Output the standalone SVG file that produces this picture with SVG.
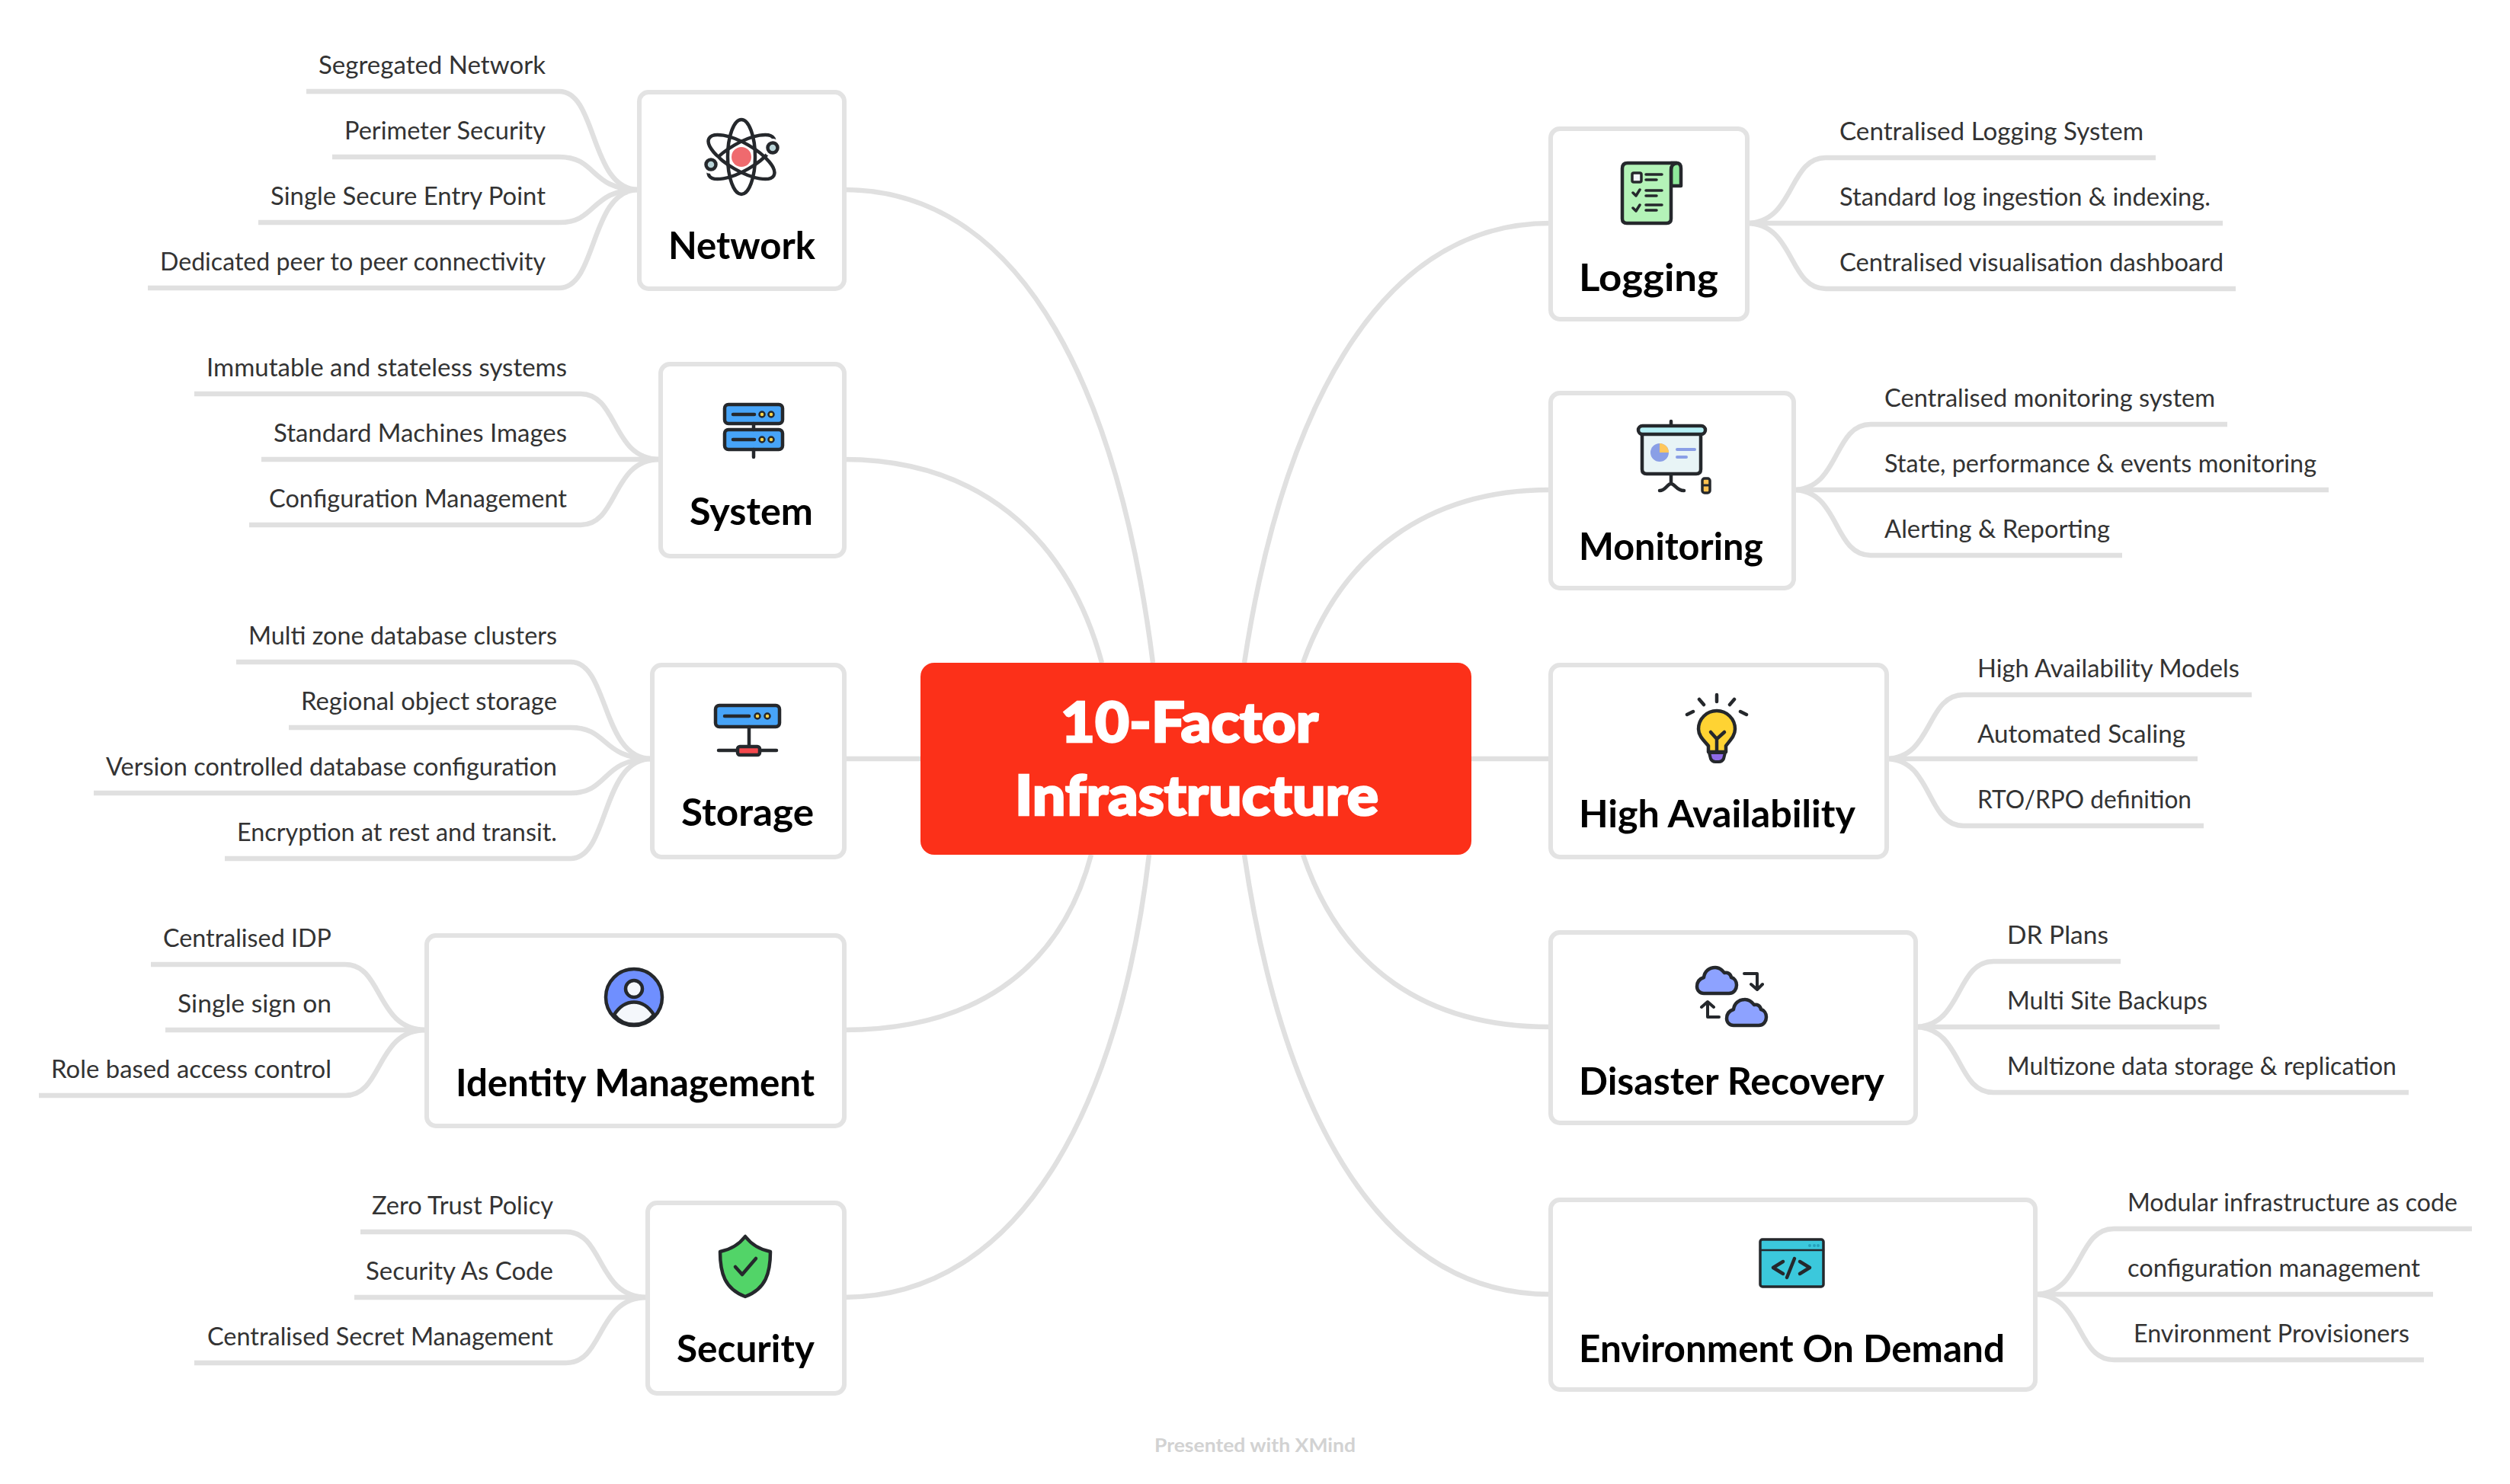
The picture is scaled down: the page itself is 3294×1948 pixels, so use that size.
<svg xmlns="http://www.w3.org/2000/svg" width="3294" height="1948" viewBox="0 0 3294 1948">
<style>
.bg{fill:#fff}
.c{fill:none;stroke:#e0e0e0;stroke-width:6.5;stroke-linecap:butt}
.box{fill:#fff;stroke:#e3e3e3;stroke-width:6;transform:translate(1px,1px)}
.root{fill:#fc3019}
text{font-family:"Lato","Noto Sans","Liberation Sans",sans-serif}
.leaf{font-size:33px;fill:#333;transform:translateY(1px)}
.l{text-anchor:end}
.title{font-size:49px;font-weight:700;fill:#000;transform:translate(1px,2px)}
.rt{font-size:72px;font-weight:900;fill:#fff;stroke:#fff;stroke-width:2.5}
.wm{font-size:24px;font-weight:700;fill:#d2d2d2;transform:translateY(1px)}
.i{stroke:#25282c;stroke-width:4.5;stroke-linecap:round;stroke-linejoin:round}
.n{fill:none}
.blue{fill:#47a4f8}
.y{fill:#ffd54a;stroke-width:2.5}
</style>
<defs>
<path id="cloud" d="M9 34H42C49 34 52 28 52 23C52 18 49 14 45 13C44 8 40 6 36 7C33 3 29 0 24 0C16 0 10 5 9 13C3 15 0 19 0 25C0 30 4 34 9 34Z"/>
</defs>
<rect class="bg" width="3294" height="1948"/>
<g id="connectors">
<path class="c" d="M1107 249C1350 249 1470 530 1513 870"/>
<path class="c" d="M1107 603C1280 603 1400 700 1446 870"/>
<path class="c" d="M1107 996H1210"/>
<path class="c" d="M1107 1352C1270 1352 1390 1280 1432 1122"/>
<path class="c" d="M1107 1703C1340 1703 1470 1450 1508 1122"/>
<path class="c" d="M2034 293C1800 293 1680 560 1633 870"/>
<path class="c" d="M2034 643C1870 643 1760 730 1710 870"/>
<path class="c" d="M2034 996H1931"/>
<path class="c" d="M2034 1348C1870 1348 1760 1270 1710 1122"/>
<path class="c" d="M2034 1699C1800 1699 1680 1440 1633 1122"/>
<path class="c" d="M402 120H734C784 120 774 249 838 249"/>
<path class="c" d="M436 206H734C784 206 774 249 838 249"/>
<path class="c" d="M339 292H734C784 292 774 249 838 249"/>
<path class="c" d="M194 378H734C784 378 774 249 838 249"/>
<path class="c" d="M255 517H762C812 517 802 603 866 603"/>
<path class="c" d="M343 603H866"/>
<path class="c" d="M327 689H762C812 689 802 603 866 603"/>
<path class="c" d="M310 869H749C799 869 789 996 855 996"/>
<path class="c" d="M379 955H749C799 955 789 996 855 996"/>
<path class="c" d="M123 1041H749C799 1041 789 996 855 996"/>
<path class="c" d="M295 1127H749C799 1127 789 996 855 996"/>
<path class="c" d="M198 1266H453C503 1266 493 1352 559 1352"/>
<path class="c" d="M217 1352H559"/>
<path class="c" d="M51 1438H453C503 1438 493 1352 559 1352"/>
<path class="c" d="M473 1617H743C793 1617 783 1703 849 1703"/>
<path class="c" d="M465 1703H849"/>
<path class="c" d="M255 1789H743C793 1789 783 1703 849 1703"/>
<path class="c" d="M2829 207H2396C2346 207 2356 293 2292 293"/>
<path class="c" d="M2917 293H2292"/>
<path class="c" d="M2934 379H2396C2346 379 2356 293 2292 293"/>
<path class="c" d="M2923 557H2455C2405 557 2415 643 2353 643"/>
<path class="c" d="M3056 643H2353"/>
<path class="c" d="M2785 729H2455C2405 729 2415 643 2353 643"/>
<path class="c" d="M2955 912H2577C2527 912 2537 996 2475 996"/>
<path class="c" d="M2884 996H2475"/>
<path class="c" d="M2892 1084H2577C2527 1084 2537 996 2475 996"/>
<path class="c" d="M2783 1262H2616C2566 1262 2576 1348 2513 1348"/>
<path class="c" d="M2913 1348H2513"/>
<path class="c" d="M3161 1434H2616C2566 1434 2576 1348 2513 1348"/>
<path class="c" d="M3244 1613H2774C2724 1613 2734 1699 2670 1699"/>
<path class="c" d="M3193 1699H2670"/>
<path class="c" d="M3181 1785H2774C2724 1785 2734 1699 2670 1699"/>
</g>
<g id="root">
<rect class="root" x="1208" y="870" width="723" height="252" rx="18"/>
<text class="rt" x="1392" y="974" textLength="338" lengthAdjust="spacingAndGlyphs">10-Factor</text>
<text class="rt" x="1332" y="1070" textLength="477" lengthAdjust="spacingAndGlyphs">Infrastructure</text>
</g>
<g id="network">
<rect class="box" x="838" y="120" width="269" height="258" rx="12"/>
<g class="i n"><ellipse cx="973" cy="206" rx="18" ry="49"/><ellipse cx="973" cy="206" rx="18" ry="49" transform="rotate(60 973 206)"/><ellipse cx="973" cy="206" rx="18" ry="49" transform="rotate(-60 973 206)"/></g>
<circle cx="1014" cy="194" r="12" fill="#fff"/><circle cx="933" cy="216" r="12" fill="#fff"/>
<circle class="i" cx="1014" cy="194" r="6.5" fill="#b9d4d8"/><circle class="i" cx="933" cy="216" r="6.5" fill="#b9d4d8"/>
<circle cx="973" cy="206" r="13" fill="#ef6a6e"/>
<text class="title" x="876" y="338" textLength="193" lengthAdjust="spacingAndGlyphs">Network</text>
<text class="leaf l" x="716" y="96" textLength="298" lengthAdjust="spacingAndGlyphs">Segregated Network</text>
<text class="leaf l" x="716" y="182" textLength="264" lengthAdjust="spacingAndGlyphs">Perimeter Security</text>
<text class="leaf l" x="716" y="268" textLength="361" lengthAdjust="spacingAndGlyphs">Single Secure Entry Point</text>
<text class="leaf l" x="716" y="354" textLength="506" lengthAdjust="spacingAndGlyphs">Dedicated peer to peer connectivity</text>
</g>
<g id="system">
<rect class="box" x="866" y="477" width="241" height="252" rx="12"/>
<rect class="i blue" x="951" y="531" width="76" height="25" rx="5"/><rect class="i blue" x="951" y="564" width="76" height="26" rx="5"/>
<path class="i n" d="M989 556V564M989 590V600M962 544H990M962 577H990"/>
<circle class="i y" cx="1000" cy="544" r="3.5"/><circle class="i y" cx="1012" cy="544" r="3.5"/><circle class="i y" cx="1000" cy="577" r="3.5"/><circle class="i y" cx="1012" cy="577" r="3.5"/>
<text class="title" x="904" y="687" textLength="162" lengthAdjust="spacingAndGlyphs">System</text>
<text class="leaf l" x="744" y="493" textLength="473" lengthAdjust="spacingAndGlyphs">Immutable and stateless systems</text>
<text class="leaf l" x="744" y="579" textLength="385" lengthAdjust="spacingAndGlyphs">Standard Machines Images</text>
<text class="leaf l" x="744" y="665" textLength="391" lengthAdjust="spacingAndGlyphs">Configuration Management</text>
</g>
<g id="storage">
<rect class="box" x="855" y="872" width="252" height="252" rx="12"/>
<rect class="i blue" x="939" y="926" width="84" height="28" rx="5"/>
<path class="i n" d="M951 940H983M983 954V981M943 985H1019"/>
<circle class="i y" cx="994" cy="940" r="3.5"/><circle class="i y" cx="1007" cy="940" r="3.5"/>
<rect class="i" x="968" y="980" width="29" height="11" rx="3" fill="#f5484d"/>
<text class="title" x="893" y="1082" textLength="174" lengthAdjust="spacingAndGlyphs">Storage</text>
<text class="leaf l" x="731" y="845" textLength="405" lengthAdjust="spacingAndGlyphs">Multi zone database clusters</text>
<text class="leaf l" x="731" y="931" textLength="336" lengthAdjust="spacingAndGlyphs">Regional object storage</text>
<text class="leaf l" x="731" y="1017" textLength="592" lengthAdjust="spacingAndGlyphs">Version controlled database configuration</text>
<text class="leaf l" x="731" y="1103" textLength="420" lengthAdjust="spacingAndGlyphs">Encryption at rest and transit.</text>
</g>
<g id="identity-management">
<rect class="box" x="559" y="1227" width="548" height="250" rx="12"/>
<circle class="i" cx="832" cy="1309" r="37" fill="#6f8fff"/>
<circle class="i" cx="832" cy="1298" r="11" fill="#f4f7fb"/>
<path class="i" d="M806 1332C820 1310 844 1310 858 1332C845 1349 819 1349 806 1332Z" fill="#f4f7fb"/>
<text class="title" x="597" y="1437" textLength="471" lengthAdjust="spacingAndGlyphs">Identity Management</text>
<text class="leaf l" x="435" y="1242" textLength="221" lengthAdjust="spacingAndGlyphs">Centralised IDP</text>
<text class="leaf l" x="435" y="1328" textLength="202" lengthAdjust="spacingAndGlyphs">Single sign on</text>
<text class="leaf l" x="435" y="1414" textLength="368" lengthAdjust="spacingAndGlyphs">Role based access control</text>
</g>
<g id="security">
<rect class="box" x="849" y="1578" width="258" height="250" rx="12"/>
<path class="i" d="M978 1623C968 1636 955 1641 945 1643C945 1671 951 1692 978 1702C1005 1692 1011 1671 1011 1643C1001 1641 988 1636 978 1623Z" fill="#52d468"/>
<path class="i n" d="M965 1663L974 1673L992 1652"/>
<text class="title" x="887" y="1786" textLength="181" lengthAdjust="spacingAndGlyphs">Security</text>
<text class="leaf l" x="726" y="1593" textLength="238" lengthAdjust="spacingAndGlyphs">Zero Trust Policy</text>
<text class="leaf l" x="726" y="1679" textLength="246" lengthAdjust="spacingAndGlyphs">Security As Code</text>
<text class="leaf l" x="726" y="1765" textLength="454" lengthAdjust="spacingAndGlyphs">Centralised Secret Management</text>
</g>
<g id="logging">
<rect class="box" x="2034" y="168" width="258" height="250" rx="12"/>
<path class="i" d="M2193 214H2200Q2206 214 2206 221V244H2193Z" fill="#8fe99a"/>
<path class="i" d="M2136 214H2201Q2193 215 2193 223V287Q2193 293 2187 293H2135Q2129 293 2129 287V221Q2129 214 2136 214Z" fill="#b4f3b8"/>
<rect class="i" x="2142" y="227" width="12" height="12" rx="2" fill="#f4f7fb" style="stroke-width:3.5"/>
<path class="i n" style="stroke-width:3.5" d="M2160 229H2181M2160 236H2174M2160 250H2181M2160 257H2174M2160 269H2181M2160 276H2174M2143 253L2147 257L2152 249M2143 273L2147 277L2152 269"/>
<text class="title" x="2071" y="380" textLength="183" lengthAdjust="spacingAndGlyphs">Logging</text>
<text class="leaf" x="2414" y="183" textLength="399" lengthAdjust="spacingAndGlyphs">Centralised Logging System</text>
<text class="leaf" x="2414" y="269" textLength="487" lengthAdjust="spacingAndGlyphs">Standard log ingestion &amp; indexing.</text>
<text class="leaf" x="2414" y="355" textLength="504" lengthAdjust="spacingAndGlyphs">Centralised visualisation dashboard</text>
</g>
<g id="monitoring">
<rect class="box" x="2034" y="515" width="319" height="256" rx="12"/>
<path class="i n" d="M2193 553V561M2193 622V635M2178 644C2186 644 2188 635 2193 635C2198 635 2200 644 2210 644"/>
<path class="i" d="M2155 569H2232V616Q2232 622 2226 622H2161Q2155 622 2155 616Z" fill="#e8f4f6"/>
<rect class="i" x="2150" y="559" width="88" height="11" rx="5.5" fill="#b5f0f5"/>
<circle cx="2178" cy="594" r="12" fill="#8a9fe6"/><path d="M2178 594V582A12 12 0 0 1 2190 594Z" fill="#ffc75c"/>
<path d="M2201 590H2224M2201 600H2213" stroke="#8a9fe6" stroke-width="4" stroke-linecap="round" fill="none"/>
<rect class="i" x="2234" y="628" width="10" height="19" rx="3" fill="#ffc14f" style="stroke-width:3.5"/><path d="M2234 637H2244" stroke="#25282c" stroke-width="3"/>
<text class="title" x="2071" y="733" textLength="242" lengthAdjust="spacingAndGlyphs">Monitoring</text>
<text class="leaf" x="2473" y="533" textLength="434" lengthAdjust="spacingAndGlyphs">Centralised monitoring system</text>
<text class="leaf" x="2473" y="619" textLength="567" lengthAdjust="spacingAndGlyphs">State, performance &amp; events monitoring</text>
<text class="leaf" x="2473" y="705" textLength="296" lengthAdjust="spacingAndGlyphs">Alerting &amp; Reporting</text>
</g>
<g id="high-availability">
<rect class="box" x="2034" y="872" width="441" height="252" rx="12"/>
<path class="i n" d="M2253 912V921M2230 918L2236 925M2276 918L2270 925M2214 938L2222 934M2292 938L2284 934"/>
<path class="i" d="M2242 987V979C2236 972 2229 966 2229 957A24 24 0 0 1 2277 957C2277 966 2270 972 2265 979V987Z" fill="#ffd333"/>
<path class="i" d="M2243 988H2264L2262 996Q2260 1000 2256 1000H2251Q2247 1000 2245 996Z" fill="#8f6be8" style="stroke-width:4"/>
<path class="i n" d="M2245 961L2253 970L2263 961M2253 970V985"/>
<text class="title" x="2071" y="1084" textLength="363" lengthAdjust="spacingAndGlyphs">High Availability</text>
<text class="leaf" x="2595" y="888" textLength="344" lengthAdjust="spacingAndGlyphs">High Availability Models</text>
<text class="leaf" x="2595" y="974" textLength="273" lengthAdjust="spacingAndGlyphs">Automated Scaling</text>
<text class="leaf" x="2595" y="1060" textLength="281" lengthAdjust="spacingAndGlyphs">RTO/RPO definition</text>
</g>
<g id="disaster-recovery">
<rect class="box" x="2034" y="1223" width="479" height="250" rx="12"/>
<use href="#cloud" class="i" x="2227" y="1270" fill="#8da2ff"/>
<use href="#cloud" class="i" x="2266" y="1312" fill="#8da2ff"/>
<path class="i n" style="stroke-width:4" d="M2289 1278H2306V1298M2298 1292L2306 1299L2313 1292M2256 1335H2241V1316M2233 1322L2241 1315L2249 1322"/>
<text class="title" x="2071" y="1435" textLength="401" lengthAdjust="spacingAndGlyphs">Disaster Recovery</text>
<text class="leaf" x="2634" y="1238" textLength="133" lengthAdjust="spacingAndGlyphs">DR Plans</text>
<text class="leaf" x="2634" y="1324" textLength="263" lengthAdjust="spacingAndGlyphs">Multi Site Backups</text>
<text class="leaf" x="2634" y="1410" textLength="511" lengthAdjust="spacingAndGlyphs">Multizone data storage &amp; replication</text>
</g>
<g id="environment-on-demand">
<rect class="box" x="2034" y="1574" width="636" height="249" rx="12"/>
<rect class="i" x="2310" y="1627" width="83" height="62" rx="3" fill="#3bc8dc" style="stroke-width:3.5"/>
<path class="i n" style="stroke-width:2.5" d="M2310 1641H2393"/>
<path class="i n" d="M2340 1656L2327 1664L2340 1672M2355 1652L2345 1677M2362 1656L2375 1664L2362 1672"/>
<g fill="#26a0bb"><circle cx="2375" cy="1635" r="2"/><circle cx="2381" cy="1635" r="2"/><circle cx="2386" cy="1635" r="2"/></g>
<text class="title" x="2071" y="1786" textLength="559" lengthAdjust="spacingAndGlyphs">Environment On Demand</text>
<text class="leaf" x="2792" y="1589" textLength="433" lengthAdjust="spacingAndGlyphs">Modular infrastructure as code</text>
<text class="leaf" x="2792" y="1675" textLength="384" lengthAdjust="spacingAndGlyphs">configuration management</text>
<text class="leaf" x="2800" y="1761" textLength="362" lengthAdjust="spacingAndGlyphs">Environment Provisioners</text>
</g>
<text class="wm" x="1515" y="1905" textLength="264" lengthAdjust="spacingAndGlyphs">Presented with XMind</text>
</svg>
